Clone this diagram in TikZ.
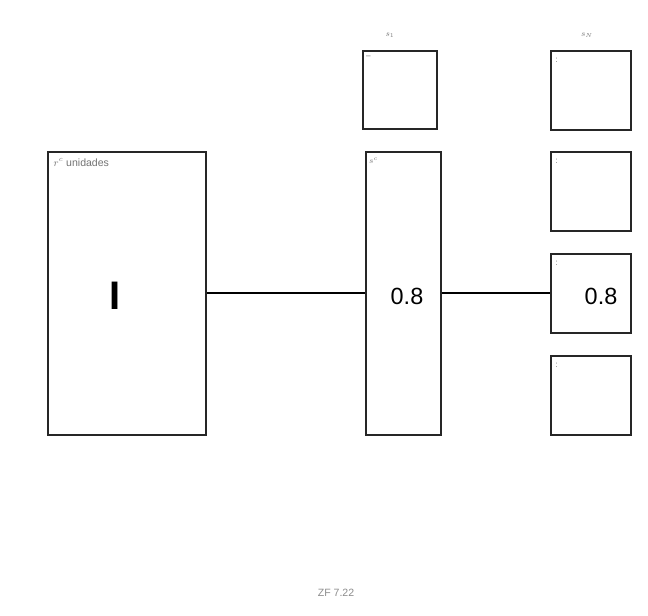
\documentclass[tikz,border=0pt]{standalone}
\usepackage{fontspec}
\setmainfont{Liberation Sans}
\begin{document}
\begin{tikzpicture}[x=.03cm,y=-.03cm,line width=1.2pt,font=\small,
    unit/.style={draw=black!85,line width=1.8pt,fill=white,inner sep=0pt,anchor=north west},
    tag/.style={font=\scriptsize,text=black!55,anchor=north west,inner sep=1pt}]
  \useasboundingbox (0,0) rectangle (648,615);
  % input layer and the two groups of units
  \node[unit,minimum width=158*.03cm,minimum height=283*.03cm] (inp) at (47,151) {};
  \node[unit,minimum width=75*.03cm,minimum height=283*.03cm] (mid) at (365,151) {};
  \node[unit,minimum width=74*.03cm,minimum height=78*.03cm] (s1) at (362,50) {};
  \foreach \y/\n in {50/a,151/b,253/c,355/d}
    \node[unit,minimum width=80*.03cm,minimum height=79*.03cm] (r\n) at (550,\y) {};
  \node[tag,font=\small] at (inp.north west) [xshift=4pt,yshift=-5pt] {\(r^c\) unidades};
  \node[tag] at (mid.north west) [xshift=2pt,yshift=-4pt] {\(s^c\)};
  \node[tag] at (s1.north west) [xshift=2pt,yshift=-4pt] {--};
  \foreach \n in {a,b,c,d}
    \node[tag] at (r\n.north west) [xshift=3pt,yshift=-5pt] {:};
  \node[font=\scriptsize,text=black!55] at (390,35) {\(s_1\)};
  \node[font=\scriptsize,text=black!55] at (587,35) {\(s_N\)};
  \node[font=\fontsize{34}{36}\selectfont\bfseries] at (115,296) {I};
  \node[font=\fontsize{20}{22}\selectfont] (v1) at (407,296) {0.8};
  \node[font=\fontsize{20}{22}\selectfont] (v2) at (601,296) {0.8};
  \draw (inp.east |- 0,293) -- (mid.west |- 0,293);
  \draw (mid.east |- 0,293) -- (rc.west |- 0,293);
  \node[font=\small,text=black!45] at (336,593) {ZF 7.22};
\end{tikzpicture}
\end{document}
